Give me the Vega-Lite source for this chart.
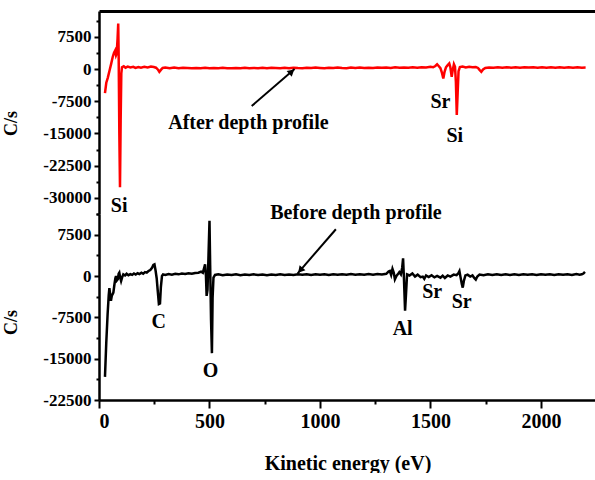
{
"$schema": "https://vega.github.io/schema/vega-lite/v6.json",
"padding": {"left": 2, "top": 11, "right": 0, "bottom": 0},
"spacing": 0,
"bounds": "flush",
"config": {"view": {"stroke": null}, "font": "Liberation Serif",
 "axis": {"grid": false, "domainColor": "#000", "tickColor": "#000", "labelColor": "#000", "titleColor": "#000", "labelFont": "Liberation Serif", "titleFont": "Liberation Serif", "labelFontWeight": "bold", "titleFontWeight": "bold", "labelOverlap": false, "labelBound": false},
 "text": {"font": "Liberation Serif", "fontWeight": "bold", "fontSize": 20, "color": "#000"}},
"datasets": {
"red": [{"e":27,"c":-5600},{"e":33,"c":-3200},{"e":40,"c":-2000},{"e":48,"c":-300},{"e":55,"c":1200},{"e":62,"c":2800},{"e":68,"c":3800},{"e":73,"c":4300},{"e":77,"c":3200},{"e":80,"c":3600},{"e":84,"c":7000},{"e":87,"c":10600},{"e":89,"c":3000},{"e":92,"c":-15000},{"e":95,"c":-27500},{"e":98,"c":-12000},{"e":101,"c":-1000},{"e":104,"c":400},{"e":112,"c":650},{"e":120,"c":300},{"e":130,"c":550},{"e":142,"c":350},{"e":155,"c":500},{"e":165,"c":250},{"e":178,"c":450},{"e":190,"c":300},{"e":205,"c":500},{"e":220,"c":350},{"e":235,"c":550},{"e":248,"c":450},{"e":258,"c":300},{"e":266,"c":-100},{"e":273,"c":-650},{"e":280,"c":-200},{"e":288,"c":250},{"e":300,"c":350},{"e":320,"c":200},{"e":340,"c":320},{"e":360,"c":180},{"e":380,"c":300},{"e":400,"c":220},{"e":420,"c":150},{"e":440,"c":260},{"e":460,"c":180},{"e":480,"c":280},{"e":500,"c":150},{"e":520,"c":250},{"e":540,"c":170},{"e":560,"c":280},{"e":580,"c":200},{"e":600,"c":150},{"e":620,"c":260},{"e":640,"c":180},{"e":660,"c":300},{"e":680,"c":200},{"e":700,"c":250},{"e":720,"c":170},{"e":740,"c":280},{"e":760,"c":200},{"e":780,"c":300},{"e":800,"c":220},{"e":820,"c":160},{"e":840,"c":280},{"e":860,"c":200},{"e":880,"c":300},{"e":900,"c":220},{"e":920,"c":170},{"e":940,"c":300},{"e":960,"c":230},{"e":980,"c":320},{"e":1000,"c":240},{"e":1020,"c":180},{"e":1040,"c":300},{"e":1060,"c":220},{"e":1080,"c":330},{"e":1100,"c":250},{"e":1120,"c":200},{"e":1140,"c":320},{"e":1160,"c":260},{"e":1180,"c":350},{"e":1200,"c":250},{"e":1220,"c":300},{"e":1240,"c":220},{"e":1260,"c":350},{"e":1280,"c":280},{"e":1300,"c":330},{"e":1320,"c":250},{"e":1340,"c":380},{"e":1360,"c":300},{"e":1380,"c":360},{"e":1400,"c":280},{"e":1420,"c":400},{"e":1440,"c":320},{"e":1460,"c":420},{"e":1480,"c":350},{"e":1500,"c":500},{"e":1512,"c":400},{"e":1522,"c":700},{"e":1530,"c":1100},{"e":1537,"c":700},{"e":1545,"c":200},{"e":1552,"c":-900},{"e":1558,"c":-2200},{"e":1564,"c":-600},{"e":1570,"c":400},{"e":1578,"c":900},{"e":1585,"c":1300},{"e":1590,"c":400},{"e":1596,"c":-1800},{"e":1601,"c":-200},{"e":1606,"c":1100},{"e":1611,"c":500},{"e":1615,"c":-3000},{"e":1619,"c":-10700},{"e":1623,"c":-5500},{"e":1627,"c":-500},{"e":1633,"c":450},{"e":1645,"c":550},{"e":1660,"c":350},{"e":1675,"c":500},{"e":1690,"c":400},{"e":1705,"c":450},{"e":1715,"c":250},{"e":1722,"c":-200},{"e":1730,"c":-650},{"e":1738,"c":-100},{"e":1748,"c":250},{"e":1765,"c":350},{"e":1785,"c":300},{"e":1805,"c":400},{"e":1825,"c":300},{"e":1845,"c":420},{"e":1865,"c":320},{"e":1885,"c":380},{"e":1905,"c":300},{"e":1925,"c":420},{"e":1945,"c":330},{"e":1965,"c":380},{"e":1985,"c":280},{"e":2005,"c":400},{"e":2025,"c":320},{"e":2045,"c":380},{"e":2065,"c":280},{"e":2085,"c":400},{"e":2105,"c":320},{"e":2125,"c":380},{"e":2145,"c":300},{"e":2165,"c":400},{"e":2185,"c":320},{"e":2202,"c":350}],
"black": [{"e":27,"c":-18300},{"e":33,"c":-12000},{"e":39,"c":-6900},{"e":44,"c":-3500},{"e":47,"c":-2200},{"e":51,"c":-3500},{"e":54,"c":-4500},{"e":58,"c":-3600},{"e":65,"c":-3000},{"e":70,"c":-1500},{"e":74,"c":-400},{"e":77,"c":0},{"e":81,"c":-800},{"e":85,"c":-600},{"e":89,"c":400},{"e":92,"c":600},{"e":96,"c":-300},{"e":100,"c":-900},{"e":105,"c":-200},{"e":110,"c":300},{"e":118,"c":100},{"e":125,"c":400},{"e":133,"c":150},{"e":142,"c":350},{"e":150,"c":200},{"e":158,"c":450},{"e":166,"c":250},{"e":175,"c":500},{"e":183,"c":350},{"e":192,"c":600},{"e":200,"c":400},{"e":208,"c":700},{"e":216,"c":600},{"e":224,"c":900},{"e":232,"c":1100},{"e":240,"c":1500},{"e":246,"c":2000},{"e":251,"c":2100},{"e":256,"c":1000},{"e":261,"c":-400},{"e":266,"c":-2800},{"e":271,"c":-5100},{"e":276,"c":-5000},{"e":280,"c":-2000},{"e":285,"c":0},{"e":290,"c":300},{"e":300,"c":200},{"e":315,"c":350},{"e":330,"c":250},{"e":345,"c":400},{"e":360,"c":300},{"e":375,"c":450},{"e":390,"c":350},{"e":405,"c":500},{"e":420,"c":400},{"e":435,"c":550},{"e":450,"c":600},{"e":462,"c":800},{"e":470,"c":600},{"e":476,"c":1500},{"e":480,"c":2100},{"e":484,"c":0},{"e":487,"c":-3600},{"e":491,"c":-2500},{"e":495,"c":3000},{"e":500,"c":10000},{"e":503,"c":2000},{"e":507,"c":-8000},{"e":511,"c":-14000},{"e":514,"c":-4000},{"e":518,"c":-300},{"e":525,"c":200},{"e":540,"c":300},{"e":560,"c":150},{"e":580,"c":280},{"e":600,"c":180},{"e":620,"c":300},{"e":640,"c":150},{"e":660,"c":250},{"e":680,"c":180},{"e":700,"c":300},{"e":720,"c":200},{"e":740,"c":280},{"e":760,"c":150},{"e":780,"c":250},{"e":800,"c":200},{"e":820,"c":320},{"e":840,"c":180},{"e":860,"c":280},{"e":880,"c":200},{"e":900,"c":300},{"e":920,"c":220},{"e":940,"c":330},{"e":960,"c":200},{"e":980,"c":300},{"e":1000,"c":230},{"e":1020,"c":330},{"e":1040,"c":200},{"e":1060,"c":320},{"e":1080,"c":220},{"e":1100,"c":330},{"e":1120,"c":230},{"e":1140,"c":350},{"e":1160,"c":250},{"e":1180,"c":330},{"e":1200,"c":230},{"e":1220,"c":350},{"e":1240,"c":250},{"e":1260,"c":380},{"e":1280,"c":280},{"e":1300,"c":400},{"e":1310,"c":800},{"e":1316,"c":900},{"e":1322,"c":200},{"e":1328,"c":1300},{"e":1334,"c":600},{"e":1339,"c":-600},{"e":1346,"c":0},{"e":1352,"c":300},{"e":1359,"c":700},{"e":1366,"c":300},{"e":1372,"c":1500},{"e":1376,"c":3200},{"e":1380,"c":-500},{"e":1385,"c":-6300},{"e":1389,"c":-3500},{"e":1394,"c":300},{"e":1405,"c":100},{"e":1418,"c":450},{"e":1430,"c":-100},{"e":1442,"c":250},{"e":1455,"c":-200},{"e":1465,"c":-100},{"e":1472,"c":-500},{"e":1480,"c":100},{"e":1492,"c":-200},{"e":1505,"c":150},{"e":1518,"c":-250},{"e":1530,"c":0},{"e":1545,"c":-300},{"e":1555,"c":50},{"e":1565,"c":-350},{"e":1578,"c":100},{"e":1590,"c":-100},{"e":1605,"c":250},{"e":1618,"c":150},{"e":1626,"c":500},{"e":1631,"c":900},{"e":1636,"c":-200},{"e":1642,"c":-1500},{"e":1646,"c":-2100},{"e":1651,"c":-900},{"e":1658,"c":100},{"e":1668,"c":250},{"e":1680,"c":-100},{"e":1690,"c":100},{"e":1699,"c":-400},{"e":1705,"c":-650},{"e":1712,"c":-100},{"e":1722,"c":250},{"e":1740,"c":150},{"e":1760,"c":300},{"e":1780,"c":180},{"e":1800,"c":320},{"e":1820,"c":200},{"e":1840,"c":300},{"e":1860,"c":180},{"e":1880,"c":320},{"e":1900,"c":200},{"e":1920,"c":330},{"e":1940,"c":220},{"e":1960,"c":300},{"e":1980,"c":180},{"e":2000,"c":330},{"e":2020,"c":220},{"e":2040,"c":320},{"e":2060,"c":200},{"e":2080,"c":330},{"e":2100,"c":230},{"e":2120,"c":300},{"e":2140,"c":200},{"e":2160,"c":350},{"e":2175,"c":250},{"e":2185,"c":300},{"e":2192,"c":450},{"e":2199,"c":750}],
"topText": [{"e":91,"c":-31900,"t":"Si"},{"e":676,"c":-12460,"t":"After depth profile"},{"e":1545,"c":-7600,"t":"Sr"},{"e":1610,"c":-15600,"t":"Si"}],
"botText": [{"e":1163,"c":11480,"t":"Before depth profile"},{"e":270,"c":-8400,"t":"C"},{"e":505,"c":-17250,"t":"O"},{"e":1374,"c":-9630,"t":"Al"},{"e":1508,"c":-2870,"t":"Sr"},{"e":1641,"c":-4780,"t":"Sr"}],
"topArrow": [{"e":691,"c":-8620,"e2":885,"c2":0}],
"topHead": [{"e":872,"c":-605,"a":49}],
"botArrow": [{"e":1072,"c":8480,"e2":899,"c2":490}],
"botHead": [{"e":911,"c":1035,"a":221}]
},
"vconcat": [
{
 "width": 497, "height": 203,
 "encoding": {
  "x": {"field": "e", "type": "quantitative", "scale": {"domain": [0, 2249], "nice": false, "zero": false},
    "axis": {"orient": "top", "labels": false, "ticks": false, "title": null, "domainWidth": 3}},
  "y": {"field": "c", "type": "quantitative", "scale": {"domain": [-33750, 13500], "nice": false, "zero": false},
    "axis": {"title": "C/s", "values": [-33750,-30000,-26250,-22500,-18750,-15000,-11250,-7500,-3750,0,3750,7500,11250],
      "labelExpr": "datum.value % 7500 === 0 ? '' + datum.value : ''",
      "tickSize": {"condition": {"test": "datum.value % 7500 === 0", "value": 5}, "value": 3},
      "tickWidth": 2, "domainWidth": 2.5, "labelFontSize": 17, "labelPadding": 3,
      "titleFontSize": 18, "titleX": -79, "titleY": 112}}
 },
 "layer": [
  {"data": {"name": "red"}, "mark": {"type": "line", "color": "#ff0000", "strokeWidth": 2.5}},
  {"data": {"name": "topText"}, "mark": {"type": "text", "align": "center", "baseline": "middle"},
   "encoding": {"text": {"field": "t"}}},
  {"data": {"name": "topArrow"}, "mark": {"type": "rule", "color": "#000", "strokeWidth": 2},
   "encoding": {"x2": {"field": "e2"}, "y2": {"field": "c2"}}},
  {"data": {"name": "topHead"}, "mark": {"type": "point", "shape": "triangle-up", "filled": true, "color": "#000", "size": 60, "opacity": 1},
   "encoding": {"angle": {"field": "a", "type": "quantitative", "scale": null}}}
 ]
},
{
 "width": 497, "height": 186,
 "encoding": {
  "x": {"field": "e", "type": "quantitative", "scale": {"domain": [0, 2249], "nice": false, "zero": false},
    "axis": {"title": "Kinetic energy (eV)", "values": [0,250,500,750,1000,1250,1500,1750,2000],
      "labelExpr": "datum.value % 500 === 0 ? '' + datum.value : ''",
      "tickSize": {"condition": {"test": "datum.value % 500 === 0", "value": 8}, "value": 4},
      "tickWidth": 2, "domainWidth": 2.5, "labelFontSize": 20, "labelPadding": 3,
      "titleFontSize": 20, "titlePadding": 22}},
  "y": {"field": "c", "type": "quantitative", "scale": {"domain": [-22500, 11250], "nice": false, "zero": false},
    "axis": {"title": "C/s", "values": [-22500,-18750,-15000,-11250,-7500,-3750,0,3750,7500,11250],
      "labelExpr": "datum.value % 7500 === 0 ? '' + datum.value : ''",
      "tickSize": {"condition": {"test": "datum.value % 7500 === 0", "value": 5}, "value": 3},
      "tickWidth": 2, "domainWidth": 2.5, "labelFontSize": 17, "labelPadding": 3,
      "titleFontSize": 18, "titleX": -79, "titleY": 108}}
 },
 "layer": [
  {"data": {"name": "black"}, "mark": {"type": "line", "color": "#000", "strokeWidth": 2.5}},
  {"data": {"name": "botText"}, "mark": {"type": "text", "align": "center", "baseline": "middle"},
   "encoding": {"text": {"field": "t"}}},
  {"data": {"name": "botArrow"}, "mark": {"type": "rule", "color": "#000", "strokeWidth": 2},
   "encoding": {"x2": {"field": "e2"}, "y2": {"field": "c2"}}},
  {"data": {"name": "botHead"}, "mark": {"type": "point", "shape": "triangle-up", "filled": true, "color": "#000", "size": 60, "opacity": 1},
   "encoding": {"angle": {"field": "a", "type": "quantitative", "scale": null}}}
 ]
}
]
}
